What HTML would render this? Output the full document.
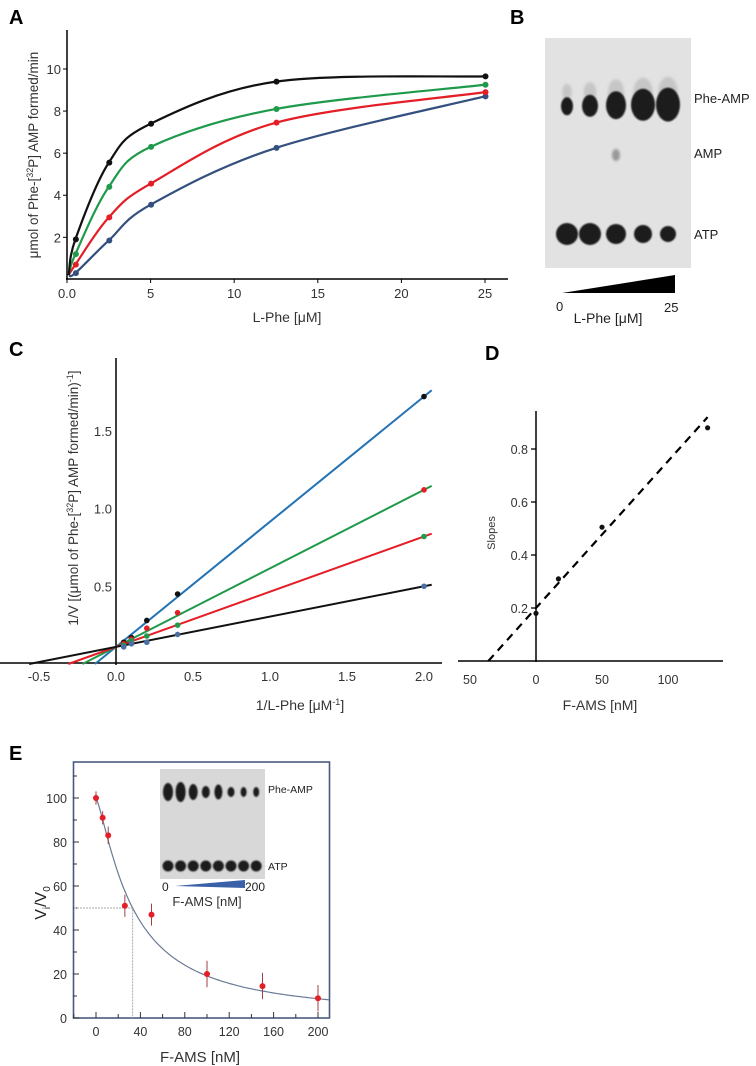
<!DOCTYPE html>
<html><head><meta charset="utf-8"><style>
html,body{margin:0;padding:0;background:#fff;}
svg{display:block;font-family:"Liberation Sans",sans-serif;}
</style></head><body>
<svg id="fig" width="756" height="1066" viewBox="0 0 756 1066" xmlns="http://www.w3.org/2000/svg">
<defs>
<filter id="blur1" x="-50%" y="-50%" width="200%" height="200%"><feGaussianBlur stdDeviation="1.2"/></filter>
<filter id="blur2" x="-50%" y="-50%" width="200%" height="200%"><feGaussianBlur stdDeviation="0.8"/></filter>
</defs>
<g id="pA"></g>
<g id="pB"></g>
<g id="pC"></g>
<g id="pD"></g>
<g id="pE"></g>
</svg>
<script>
// ---- Panel A data ----
const aX = [0.5, 2.5, 5, 12.5, 25];
const aBlack = [1.9, 5.55, 7.4, 9.4, 9.65];
const aGreen = [1.2, 4.4, 6.3, 8.1, 9.25];
const aRed = [0.7, 2.95, 4.55, 7.45, 8.9];
const aBlue = [0.3, 1.85, 3.55, 6.25, 8.7];
const aXTicks = [0, 5, 10, 15, 20, 25];
const aXTickLabels = ["0.0", "5", "10", "15", "20", "25"];
const aYTicks = [2, 4, 6, 8, 10];
// ---- Panel C data ----
const cX = [0.05, 0.1, 0.2, 0.4, 2.0];
const cBlack = [0.14, 0.17, 0.28, 0.45, 1.72];
const cRed = [0.13, 0.16, 0.23, 0.33, 1.12];
const cGreen = [0.12, 0.15, 0.18, 0.25, 0.82];
const cBlue = [0.11, 0.13, 0.14, 0.19, 0.50];
const cIntercept = [0.11, 0.11, 0.11, 0.11];
const cSlope = [0.805, 0.505, 0.355, 0.195];
const cXTicks = [-0.5, 0, 0.5, 1.0, 1.5, 2.0];
const cXTickLabels = ["-0.5", "0.0", "0.5", "1.0", "1.5", "2.0"];
const cYTicks = [0.5, 1.0, 1.5];
// ---- Panel D data ----
const dX = [0, 17, 50, 130];
const dY = [0.18, 0.31, 0.505, 0.88];
const dFit = [0.2, 0.00554]; // intercept, slope
const dXTicks = [-50, 0, 50, 100];
const dXTickLabels = ["50", "0", "50", "100"];
const dYTicks = [0.2, 0.4, 0.6, 0.8];
// ---- Panel E data ----
const eX = [0, 6, 11, 26, 50, 100, 150, 200];
const eY = [100, 91, 83, 51, 47, 20, 14.5, 9];
const eErr = [3, 3, 4, 5, 5, 6, 6, 6];
const eFit = [33, 1.3]; // IC50, hill
const eXTicks = [0, 40, 80, 120, 160, 200];
const eYTicks = [0, 20, 40, 60, 80, 100];
// gels
const bPheAMP = [[6, 9], [8, 11], [10, 14], [12, 16], [12, 17]];
const bATP = [[11, 11], [11, 11], [10, 10], [9, 9], [8, 8]];
const ePhe = [[5, 9], [5, 10], [4.5, 8], [4, 6], [4, 7.5], [3.5, 5], [3, 5], [3, 5]];

const NS = "http://www.w3.org/2000/svg";
function mk(parent, tag, attrs, txt) {
  const e = document.createElementNS(NS, tag);
  for (const k in attrs) e.setAttribute(k, attrs[k]);
  if (txt !== undefined) e.textContent = txt;
  parent.appendChild(e);
  return e;
}
function spline(pts) {
  let d = "M" + pts[0][0] + "," + pts[0][1];
  for (let i = 0; i < pts.length - 1; i++) {
    const p0 = pts[Math.max(0, i - 1)], p1 = pts[i], p2 = pts[i + 1], p3 = pts[Math.min(pts.length - 1, i + 2)];
    const c1 = [p1[0] + (p2[0] - p0[0]) / 6, p1[1] + (p2[1] - p0[1]) / 6];
    const c2 = [p2[0] - (p3[0] - p1[0]) / 6, p2[1] - (p3[1] - p1[1]) / 6];
    d += " C" + c1 + " " + c2 + " " + p2;
  }
  return d;
}

// ===== Panel A =====
(function () {
  const g = document.getElementById("pA");
  const x = v => 67 + v * 16.72, y = v => 279.4 - v * 21.04;
  let t = mk(g, "text", {x: 9, y: 24, "font-size": 20, "font-weight": "bold"}, "A");
  
  
  mk(g, "line", {x1: 67, y1: 30, x2: 67, y2: 280, stroke: "#000", "stroke-width": 1.5});
  mk(g, "line", {x1: 66, y1: 279, x2: 508, y2: 279, stroke: "#000", "stroke-width": 1.5});
  aXTicks.forEach((v, i) => {
    mk(g, "line", {x1: x(v), y1: 279, x2: x(v), y2: 283, stroke: "#000"});
    const tt = mk(g, "text", {x: x(v), y: 298, "font-size": 13, "text-anchor": "middle", fill: "#333"}, aXTickLabels[i]);
    
    
  });
  aYTicks.forEach(v => {
    mk(g, "line", {x1: 63, y1: y(v), x2: 67, y2: y(v), stroke: "#000"});
    const tt = mk(g, "text", {x: 61, y: y(v) + 5, "font-size": 13, "text-anchor": "end", fill: "#333"}, v);
    
    
  });
  t = mk(g, "text", {transform: "translate(38,155) rotate(-90)", "font-size": 13.5, "text-anchor": "middle", fill: "#333"});
  
  
  t.innerHTML = 'μmol of Phe-[<tspan font-size="9" dy="-5">32</tspan><tspan dy="5">P] AMP formed/min</tspan>';
  t = mk(g, "text", {x: 287, y: 322, "font-size": 14, "text-anchor": "middle", fill: "#333"}, "L-Phe [μM]");
  
  
  const series = [[aBlue, "#34507e", "blue"], [aRed, "#e41e26", "red"], [aGreen, "#1f9a4a", "green"], [aBlack, "#111", "black"]];
  series.forEach(([ys, col, nm]) => {
    const pts = [[x(0.1), y(0.2)]].concat(aX.map((v, i) => [x(v), y(ys[i])]));
    const p = mk(g, "path", {d: spline(pts), fill: "none", stroke: col, "stroke-width": 2.2});
    
    
    aX.forEach((v, i) => {
      const c = mk(g, "circle", {cx: x(v) + 0.5, cy: y(ys[i]), r: 3, fill: col});
      
      
    });
  });
})();

// ===== Panel B =====
(function () {
  const g = document.getElementById("pB");
  let t = mk(g, "text", {x: 510, y: 24, "font-size": 20, "font-weight": "bold"}, "B");
  
  
  const r = mk(g, "rect", {x: 545, y: 38, width: 146, height: 230, fill: "#e2e2e2"});
  
  
  const lanes = [567, 590, 616, 643, 668];
  lanes.forEach((lx, i) => {
    mk(g, "ellipse", {cx: lx, cy: 92, rx: bPheAMP[i][0] * 0.8, ry: bPheAMP[i][1] * 0.9, fill: "#bbb", filter: "url(#blur1)", opacity: 0.7});
    const e = mk(g, "ellipse", {cx: lx, cy: 108 - bPheAMP[i][1] * 0.2, rx: bPheAMP[i][0], ry: bPheAMP[i][1], fill: "#1a1a1a", filter: "url(#blur2)"});
    
    
    const a = mk(g, "ellipse", {cx: lx, cy: 234, rx: bATP[i][0], ry: bATP[i][1], fill: "#1a1a1a", filter: "url(#blur2)"});
    
    
  });
  mk(g, "ellipse", {cx: 616, cy: 155, rx: 4, ry: 6, fill: "#999", filter: "url(#blur1)"});
  [["Phe-AMP", 103], ["AMP", 158], ["ATP", 239]].forEach(([s, yy]) => {
    const tt = mk(g, "text", {x: 694, y: yy, "font-size": 13, fill: "#222"}, s);
    
    
  });
  mk(g, "polygon", {points: "562,293 675,275 675,293", fill: "#000"});
  mk(g, "text", {x: 556, y: 311, "font-size": 13, fill: "#222"}, "0");
  mk(g, "text", {x: 664, y: 312, "font-size": 13, fill: "#222"}, "25");
  t = mk(g, "text", {x: 608, y: 323, "font-size": 14, "text-anchor": "middle", fill: "#222"}, "L-Phe [μM]");
  
  
})();

// ===== Panel C =====
(function () {
  const g = document.getElementById("pC");
  const x = v => 116 + v * 154, y = v => 664 - v * 155.5;
  let t = mk(g, "text", {x: 9, y: 356, "font-size": 20, "font-weight": "bold"}, "C");
  
  
  mk(g, "line", {x1: 116, y1: 358, x2: 116, y2: 665, stroke: "#000", "stroke-width": 1.5});
  mk(g, "line", {x1: 0, y1: 663, x2: 442, y2: 663, stroke: "#000", "stroke-width": 1.5});
  cXTicks.forEach((v, i) => {
    const tt = mk(g, "text", {x: x(v), y: 681, "font-size": 13, "text-anchor": "middle", fill: "#333"}, cXTickLabels[i]);
    
    
  });
  cYTicks.forEach(v => {
    const tt = mk(g, "text", {x: 112, y: y(v) + 5, "font-size": 13, "text-anchor": "end", fill: "#333"}, v.toFixed(1));
    
    
  });
  t = mk(g, "text", {transform: "translate(78,498) rotate(-90)", "font-size": 13.5, "text-anchor": "middle", fill: "#333"});
  
  
  t.innerHTML = '1/V [(μmol of Phe-[<tspan font-size="9" dy="-5">32</tspan><tspan dy="5">P] AMP formed/min)</tspan><tspan font-size="9" dy="-5">-1</tspan><tspan dy="5">]</tspan>';
  t = mk(g, "text", {x: 300, y: 710, "font-size": 14, "text-anchor": "middle", fill: "#333"});
  
  
  t.innerHTML = '1/L-Phe [μM<tspan font-size="9" dy="-5">-1</tspan><tspan dy="5">]</tspan>';
  const lineCols = ["#2272b4", "#1f9a4a", "#e41e26", "#111"];
  const dotSets = [[cBlack, "#111"], [cRed, "#e41e26"], [cGreen, "#1f9a4a"], [cBlue, "#4a6fa5"]];
  cSlope.forEach((s, i) => {
    const x0 = -cIntercept[i] / s, x1 = 2.05;
    const l = mk(g, "line", {x1: x(x0), y1: y(0), x2: x(x1), y2: y(cIntercept[i] + s * x1), stroke: lineCols[i], "stroke-width": 2});
    
    
  });
  dotSets.forEach(([ys, col]) => {
    cX.forEach((v, i) => {
      const c = mk(g, "circle", {cx: x(v), cy: y(ys[i]), r: 2.8, fill: col});
      
      
    });
  });
})();

// ===== Panel D =====
(function () {
  const g = document.getElementById("pD");
  const x = v => 536 + v * 1.32, y = v => 661 - v * 265;
  let t = mk(g, "text", {x: 485, y: 360, "font-size": 20, "font-weight": "bold"}, "D");
  
  
  mk(g, "line", {x1: 536, y1: 411, x2: 536, y2: 662, stroke: "#000", "stroke-width": 1.5});
  mk(g, "line", {x1: 458, y1: 661, x2: 723, y2: 661, stroke: "#000", "stroke-width": 1.5});
  dXTicks.forEach((v, i) => {
    const tt = mk(g, "text", {x: x(v), y: 684, "font-size": 12.5, "text-anchor": "middle", fill: "#333"}, dXTickLabels[i]);
    
    
  });
  dYTicks.forEach(v => {
    mk(g, "line", {x1: 531, y1: y(v), x2: 536, y2: y(v), stroke: "#000", "stroke-width": 1.3});
    const tt = mk(g, "text", {x: 528, y: y(v) + 5, "font-size": 12.5, "text-anchor": "end", fill: "#333"}, v.toFixed(1));
    
    
  });
  t = mk(g, "text", {transform: "translate(495,533) rotate(-90)", "font-size": 11, "text-anchor": "middle", fill: "#333"}, "Slopes");
  
  
  t = mk(g, "text", {x: 600, y: 710, "font-size": 14, "text-anchor": "middle", fill: "#333"}, "F-AMS [nM]");
  
  
  const x0 = -dFit[0] / dFit[1], x1 = 130;
  const l = mk(g, "line", {x1: x(x0), y1: y(0), x2: x(x1), y2: y(dFit[0] + dFit[1] * x1), stroke: "#000", "stroke-width": 2.2, "stroke-dasharray": "8,6"});
  
  
  dX.forEach((v, i) => {
    const c = mk(g, "circle", {cx: x(v), cy: y(dY[i]), r: 2.6, fill: "#111"});
    
    
  });
})();

// ===== Panel E =====
(function () {
  const g = document.getElementById("pE");
  const x = v => 96 + v * 1.11, y = v => 1018 - v * 2.2;
  let t = mk(g, "text", {x: 9, y: 760, "font-size": 20, "font-weight": "bold"}, "E");
  
  
  const fr = mk(g, "rect", {x: 73.5, y: 762, width: 256, height: 256, fill: "none", stroke: "#4a5a80", "stroke-width": 1.6});
  
  
  for (let v = 0; v <= 110; v += 10) mk(g, "line", {x1: 73, y1: y(v), x2: v % 20 === 0 ? 79 : 77, y2: y(v), stroke: "#333"});
  for (let v = -20; v <= 210; v += 20) mk(g, "line", {x1: x(v), y1: 1018, x2: x(v), y2: v % 40 === 0 ? 1012 : 1014, stroke: "#333"});
  eYTicks.forEach(v => {
    const tt = mk(g, "text", {x: 67, y: y(v) + 5, "font-size": 12.5, "text-anchor": "end", fill: "#333"}, v);
    
    
  });
  eXTicks.forEach(v => {
    const tt = mk(g, "text", {x: x(v), y: 1036, "font-size": 12.5, "text-anchor": "middle", fill: "#333"}, v);
    
    
  });
  t = mk(g, "text", {transform: "translate(46,903) rotate(-90)", "font-size": 16, "text-anchor": "middle", fill: "#222"});
  
  
  t.innerHTML = 'V<tspan font-size="10" dy="4">i</tspan><tspan dy="-4">/V</tspan><tspan font-size="10" dy="4">0</tspan>';
  t = mk(g, "text", {x: 200, y: 1062, "font-size": 15, "text-anchor": "middle", fill: "#333"}, "F-AMS [nM]");
  
  
  // IC50 guide lines
  mk(g, "polyline", {points: `74,${y(50)} ${x(eFit[0])},${y(50)} ${x(eFit[0])},1018`, fill: "none", stroke: "#aaa", "stroke-width": 1, "stroke-dasharray": "2,1"});
  let d = "";
  for (let v = 0; v <= 211; v += 2) {
    const yy = 100 / (1 + Math.pow(v / eFit[0], eFit[1]));
    d += (v ? " L" : "M") + x(v).toFixed(1) + "," + y(yy).toFixed(1);
  }
  const cp = mk(g, "path", {d, fill: "none", stroke: "#6a7a96", "stroke-width": 1.2});
  
  
  eX.forEach((v, i) => {
    mk(g, "line", {x1: x(v), y1: y(eY[i] - eErr[i]), x2: x(v), y2: y(eY[i] + eErr[i]), stroke: "#a04040", "stroke-width": 1});
    const c = mk(g, "circle", {cx: x(v), cy: y(eY[i]), r: 3, fill: "#e41e26"});
    
    
  });
  // inset gel
  const gr = mk(g, "rect", {x: 160, y: 769, width: 105, height: 110, fill: "#d8d8d8"});
  
  
  ePhe.forEach((s, i) => {
    const lx = 168 + i * 12.6;
    const e = mk(g, "ellipse", {cx: lx, cy: 792, rx: s[0], ry: s[1], fill: "#1a1a1a", filter: "url(#blur2)"});
    
    
    const a = mk(g, "ellipse", {cx: lx, cy: 866, rx: 5.5, ry: 5.5, fill: "#1a1a1a", filter: "url(#blur2)"});
    
    
  });
  mk(g, "text", {x: 268, y: 793, "font-size": 10.5, fill: "#222"}, "Phe-AMP");
  mk(g, "text", {x: 268, y: 870, "font-size": 10.5, fill: "#222"}, "ATP");
  mk(g, "polygon", {points: "175,886 245,880 245,888", fill: "#3a60a8"});
  mk(g, "text", {x: 162, y: 891, "font-size": 12, fill: "#222"}, "0");
  mk(g, "text", {x: 245, y: 891, "font-size": 12, fill: "#222"}, "200");
  mk(g, "text", {x: 207, y: 906, "font-size": 13, "text-anchor": "middle", fill: "#333"}, "F-AMS [nM]");
})();
</script>
</body></html>
